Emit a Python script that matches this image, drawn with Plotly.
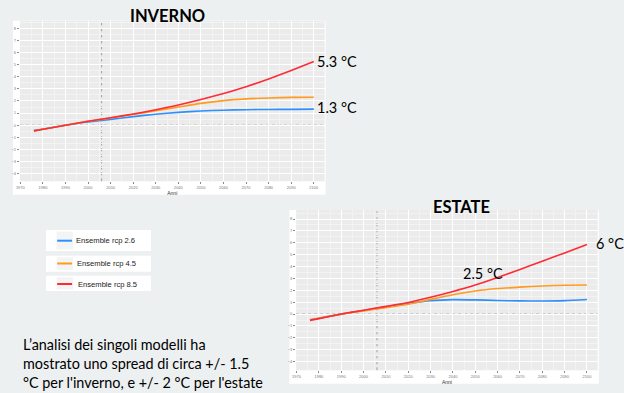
import plotly.graph_objects as go

# ---------------- data ----------------
years = [1976, 1980, 1990, 2000, 2010, 2020, 2030, 2040, 2050, 2060, 2070, 2080, 2090, 2100]

inverno_rcp26 = [-0.45, -0.33, 0.0, 0.26, 0.48, 0.71, 0.90, 1.06, 1.17, 1.24, 1.28, 1.30, 1.31, 1.33]
inverno_rcp45 = [-0.47, -0.34, 0.0, 0.32, 0.60, 0.88, 1.20, 1.50, 1.80, 2.03, 2.17, 2.25, 2.30, 2.31]
inverno_rcp85 = [-0.47, -0.34, 0.0, 0.32, 0.62, 0.92, 1.27, 1.66, 2.12, 2.62, 3.18, 3.82, 4.52, 5.26]

estate_rcp26 = [-0.48, -0.35, 0.0, 0.30, 0.62, 0.90, 1.13, 1.22, 1.20, 1.15, 1.11, 1.10, 1.13, 1.23]
estate_rcp45 = [-0.48, -0.35, 0.0, 0.27, 0.54, 0.83, 1.24, 1.63, 1.95, 2.15, 2.27, 2.37, 2.43, 2.45]
estate_rcp85 = [-0.53, -0.38, 0.0, 0.33, 0.65, 0.98, 1.42, 1.90, 2.44, 3.08, 3.76, 4.45, 5.15, 5.85]

series_names = ["Ensemble rcp 2.6", "Ensemble rcp 4.5", "Ensemble rcp 8.5"]
series_colors = ["#2E8FFF", "#FF9A22", "#FF2A33"]

x_ticks = list(range(1970, 2101, 10))
y_ticks = list(range(-4, 9, 1))
ref_year = 2006

inverno_labels = [("5.3 °C", 5.25), ("1.3 °C", 1.5)]
estate_labels = [("6 °C", 2103, 5.9), ("2.5 °C", 2043.6, 3.45)]

note_lines = [
    "L’analisi dei singoli modelli ha",
    "mostrato uno spread di circa +/- 1.5",
    "°C per l'inverno, e +/- 2 °C per l'estate",
]

# ---------------- figure ----------------
W, H = 624, 393
def px(x):
    return x / W
def py(y):
    return 1 - y / H

fig = go.Figure()

top_dom_x = [px(16), px(322.7)]
top_dom_y = [py(181.3), py(21)]
bot_dom_x = [px(294), px(597.5)]
bot_dom_y = [py(370.3), py(210)]

for i, (vals_w, vals_s) in enumerate(zip([inverno_rcp26, inverno_rcp45, inverno_rcp85],
                                         [estate_rcp26, estate_rcp45, estate_rcp85])):
    fig.add_trace(go.Scatter(x=years, y=vals_w, mode="lines", name=series_names[i],
                             line=dict(color=series_colors[i], width=1.6, shape="spline", smoothing=0.6),
                             xaxis="x", yaxis="y", showlegend=False))
    fig.add_trace(go.Scatter(x=years, y=vals_s, mode="lines", name=series_names[i],
                             line=dict(color=series_colors[i], width=1.6, shape="spline", smoothing=0.6),
                             xaxis="x2", yaxis="y2", showlegend=False))

axis_common = dict(
    showgrid=True, gridcolor="white", gridwidth=1,
    zeroline=False, showline=False,
    ticks="outside", ticklen=2, tickcolor="#8a8a8a", tickwidth=0.6,
    tickfont=dict(family="Liberation Sans", size=4, color="#777"),
)
xr = [1969.8, 2104.8]
fig.update_layout(
    xaxis=dict(domain=top_dom_x, range=xr, tickvals=x_ticks, anchor="y",
               minor=dict(tickvals=[v + 5 for v in x_ticks], showgrid=True, gridcolor="#F3F3F3", gridwidth=0.6, ticks=""),
               title=dict(text="Anni", font=dict(family="Liberation Sans", size=5, color="#333"), standoff=0),
               **axis_common),
    yaxis=dict(domain=top_dom_y, range=[-4.63, 8.6], tickvals=y_ticks, anchor="x",
               minor=dict(tickvals=[v + 0.5 for v in y_ticks], showgrid=True, gridcolor="#F3F3F3", gridwidth=0.6, ticks=""),
               **axis_common),
    xaxis2=dict(domain=bot_dom_x, range=xr, tickvals=x_ticks, anchor="y2",
                minor=dict(tickvals=[v + 5 for v in x_ticks], showgrid=True, gridcolor="#F3F3F3", gridwidth=0.6, ticks=""),
                title=dict(text="Anni", font=dict(family="Liberation Sans", size=5, color="#333"), standoff=0),
                **axis_common),
    yaxis2=dict(domain=bot_dom_y, range=[-4.73, 8.76], tickvals=y_ticks, anchor="x2",
                minor=dict(tickvals=[v + 0.5 for v in y_ticks], showgrid=True, gridcolor="#F3F3F3", gridwidth=0.6, ticks=""),
                **axis_common),
)

shapes = []
# white panels
shapes.append(dict(type="rect", xref="paper", yref="paper", x0=px(9), x1=px(323.7), y0=py(194.7), y1=py(20.7),
                   fillcolor="white", line=dict(width=0), layer="below"))
shapes.append(dict(type="rect", xref="paper", yref="paper", x0=px(287.3), x1=px(598.7), y0=py(383.7), y1=py(210),
                   fillcolor="white", line=dict(width=0), layer="below"))
# gray plot areas
for dx, dy in [(top_dom_x, top_dom_y), (bot_dom_x, bot_dom_y)]:
    shapes.append(dict(type="rect", xref="paper", yref="paper", x0=dx[0], x1=dx[1], y0=dy[0], y1=dy[1],
                       fillcolor="#EBEBEB", line=dict(width=0), layer="below"))
# reference lines
for xa, ya in [("x", "y"), ("x2", "y2")]:
    shapes.append(dict(type="line", xref=xa, yref=ya + " domain", x0=ref_year, x1=ref_year, y0=0, y1=1,
                       line=dict(color="#999999", width=0.9, dash="dot"), layer="below"))
    shapes.append(dict(type="line", xref=xa + " domain", yref=ya, x0=0, x1=1, y0=0, y1=0,
                       line=dict(color="#999999", width=0.9, dash="dot"), layer="below"))

# manual legend boxes
legend_boxes = [(230, 251, 240.7, 70.5), (255.7, 271.7, 263.5, 71.5), (275.7, 291, 284, 72)]
annotations = []
for i, (y0, y1, yl, xt) in enumerate(legend_boxes):
    shapes.append(dict(type="rect", xref="paper", yref="paper", x0=px(42.3), x1=px(148), y0=py(y1), y1=py(y0),
                       fillcolor="white", line=dict(width=0), layer="below"))
    shapes.append(dict(type="rect", xref="paper", yref="paper", x0=px(53), x1=px(69.5), y0=py(y1 - 1.5), y1=py(y0 + 1.5),
                       fillcolor="#F4F4F4", line=dict(width=0), layer="below"))
    shapes.append(dict(type="line", xref="paper", yref="paper", x0=px(53.5), x1=px(68.5), y0=py(yl), y1=py(yl),
                       line=dict(color=series_colors[i], width=2)))
    annotations.append(dict(xref="paper", yref="paper", x=px(xt), y=py(yl), text=series_names[i],
                            showarrow=False, xanchor="left", yanchor="middle",
                            font=dict(family="Liberation Sans", size=7.6, color="#222")))

# titles
annotations.append(dict(xref="paper", yref="paper", x=px(165), y=py(15.5), text="<b>INVERNO</b>", showarrow=False,
                        xanchor="center", yanchor="middle", font=dict(family="Lato", size=16.5, color="black")))
annotations.append(dict(xref="paper", yref="paper", x=px(460), y=py(206.5), text="<b>ESTATE</b>", showarrow=False,
                        xanchor="center", yanchor="middle", font=dict(family="Lato", size=16.5, color="black")))

# value labels
for txt, yv in inverno_labels:
    annotations.append(dict(xref="paper", yref="y", x=px(313), y=yv, text=txt, showarrow=False,
                            xanchor="left", yanchor="middle", font=dict(family="Lato", size=14.5, color="black")))
annotations.append(dict(xref="x2", yref="y2", x=estate_labels[0][1], y=estate_labels[0][2], text=estate_labels[0][0],
                        showarrow=False, xanchor="left", yanchor="middle", font=dict(family="Lato", size=14.5, color="black")))
annotations.append(dict(xref="x2", yref="y2", x=estate_labels[1][1], y=estate_labels[1][2], text=estate_labels[1][0],
                        showarrow=False, xanchor="left", yanchor="middle", font=dict(family="Lato", size=14.5, color="black")))

# note text
for i, line in enumerate(note_lines):
    annotations.append(dict(xref="paper", yref="paper", x=px(17), y=py(344 + i * 19.2), text=line, showarrow=False,
                            xanchor="left", yanchor="middle", font=dict(family="Lato", size=14.4, color="black")))

fig.update_layout(
    width=W, height=H,
    margin=dict(l=0, r=0, t=0, b=0),
    paper_bgcolor="#EDF0F1",
    plot_bgcolor="rgba(0,0,0,0)",
    shapes=shapes,
    annotations=annotations,
    showlegend=False,
)

fig.write_html(
    "out.html",
    config={"displayModeBar": False},
    post_script="document.body.style.margin='0';document.body.style.overflow='hidden';",
)
